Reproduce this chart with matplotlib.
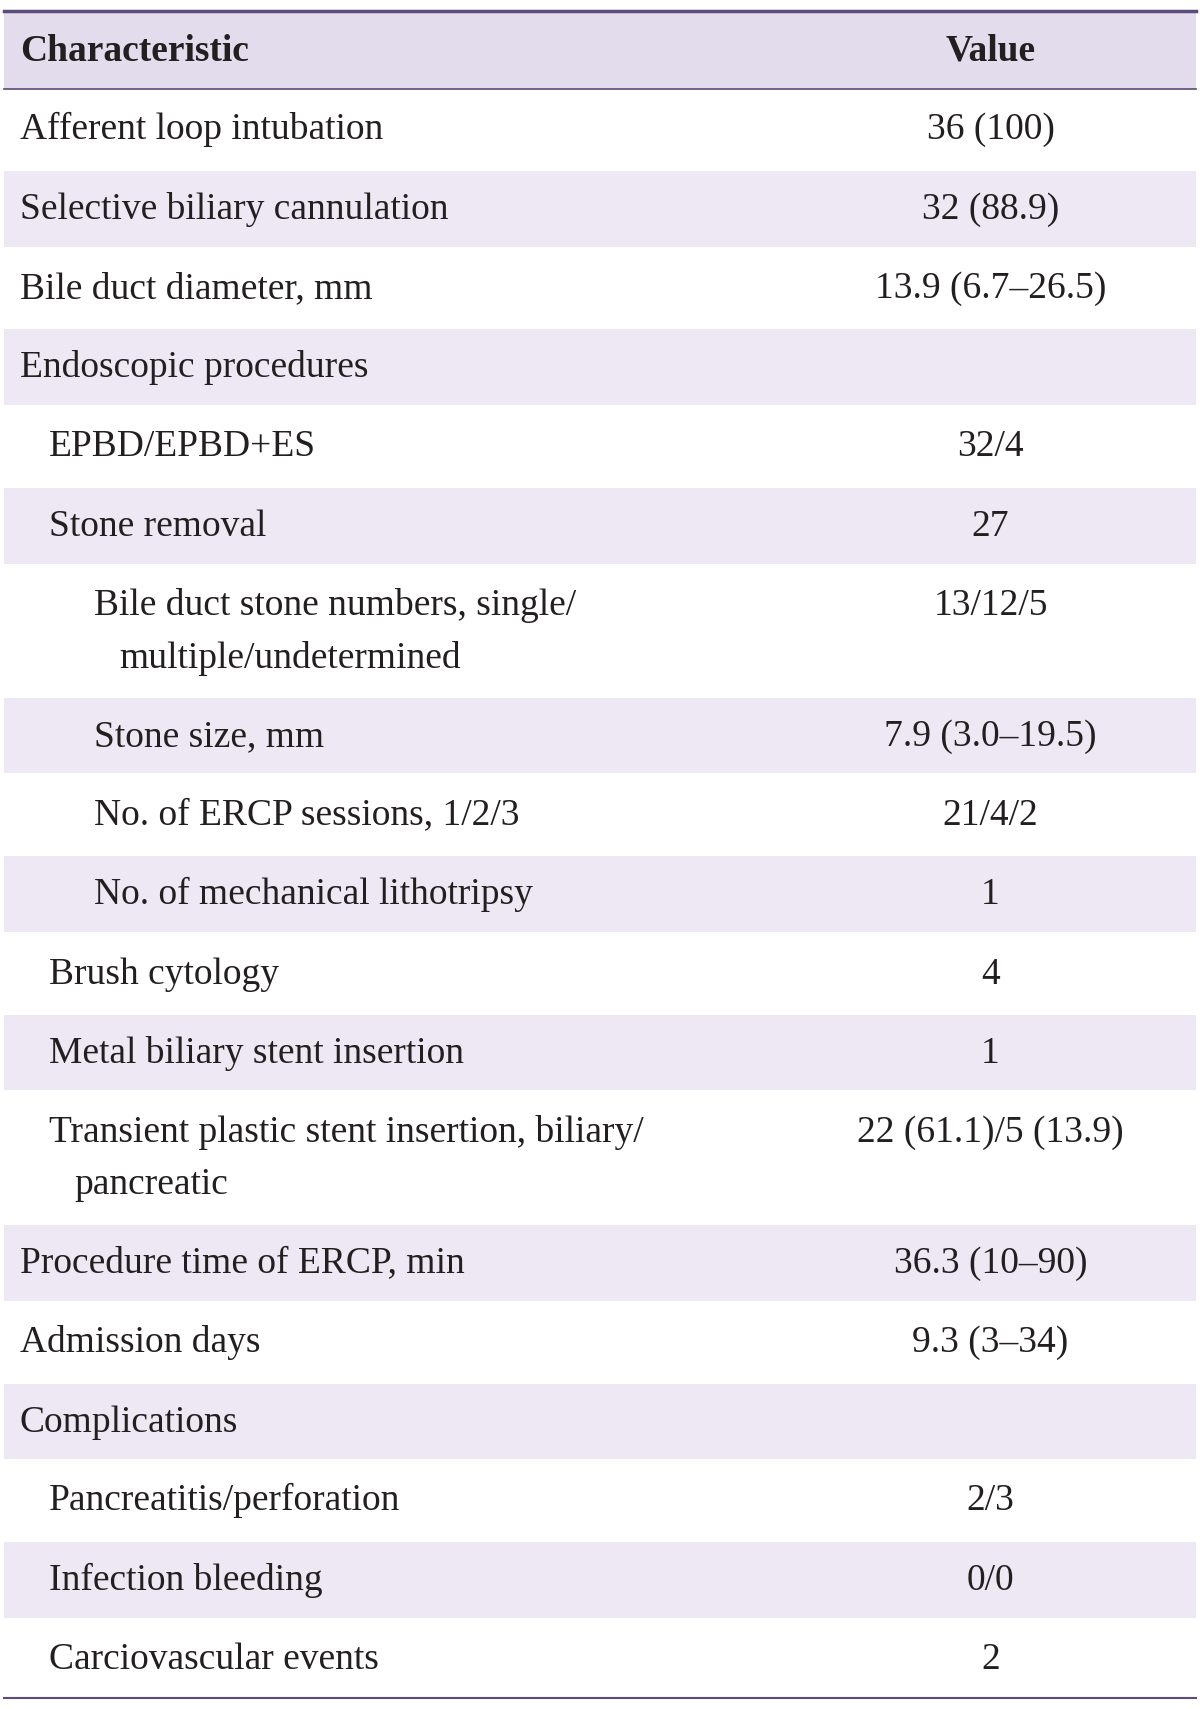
import matplotlib
matplotlib.use("Agg")
import matplotlib.pyplot as plt
from matplotlib.patches import Rectangle

header = ["Characteristic", "Value"]
labels = ["Afferent loop intubation", "Selective biliary cannulation", "Bile duct diameter, mm",
          "Endoscopic procedures", "EPBD/EPBD+ES", "Stone removal",
          "Bile duct stone numbers, single/\nmultiple/undetermined", "Stone size, mm",
          "No. of ERCP sessions, 1/2/3", "No. of mechanical lithotripsy", "Brush cytology",
          "Metal biliary stent insertion", "Transient plastic stent insertion, biliary/\npancreatic",
          "Procedure time of ERCP, min", "Admission days", "Complications",
          "Pancreatitis/perforation", "Infection bleeding", "Carciovascular events"]
values = ["36 (100)", "32 (88.9)", "13.9 (6.7\u201326.5)", "", "32/4", "27", "13/12/5",
          "7.9 (3.0\u201319.5)", "21/4/2", "1", "4", "1", "22 (61.1)/5 (13.9)",
          "36.3 (10\u201390)", "9.3 (3\u201334)", "", "2/3", "0/0", "2"]
levels = [0, 0, 0, 0, 1, 1, 2, 2, 2, 2, 1, 1, 1, 0, 0, 0, 1, 1, 1]
bounds = [82, 155, 228, 300, 373, 446, 519, 639, 711, 784, 857, 930, 1002, 1122, 1195, 1268, 1340, 1413, 1486, 1558]

W, H = 1100, 1568
fig = plt.figure(figsize=(12, 17.09), dpi=100)
ax = fig.add_axes([0, 0, 1, 1])
ax.set_xlim(0, W); ax.set_ylim(H, 0); ax.axis("off")
font = dict(family="Liberation Serif", fontsize=27, color="#231f20")

ax.add_patch(Rectangle((4, 10), W - 8, 72, color="#e3dcec", lw=0))
ax.plot([4, W - 4], [10, 10], color="#5b4a7a", lw=2.5)
ax.plot([4, W - 4], [82, 82], color="#5b4a7a", lw=1.2)
ax.text(18, 47, header[0], va="center", ha="left", fontweight="bold", **font)
ax.text(908, 47, header[1], va="center", ha="center", fontweight="bold", **font)

indent = {0: 18, 1: 45, 2: 86}
for i, (lab, val, lv) in enumerate(zip(labels, values, levels)):
    y0, y1 = bounds[i], bounds[i + 1]
    if i % 2 == 1:
        ax.add_patch(Rectangle((4, y0 + 1.5), W - 8, y1 - y0 - 3, color="#ede8f3", lw=0))
    lines = lab.split("\n")
    ax.text(indent[lv], y0 + 37, lines[0], va="center", ha="left", **font)
    if len(lines) > 1:
        ax.text(indent[lv] + 23, y0 + 85, lines[1], va="center", ha="left", **font)
    ax.text(908, y0 + 37, val, va="center", ha="center", **font)
ax.plot([4, W - 4], [1558, 1558], color="#5b4a7a", lw=1.5)
fig.savefig("out.png", dpi=100)
